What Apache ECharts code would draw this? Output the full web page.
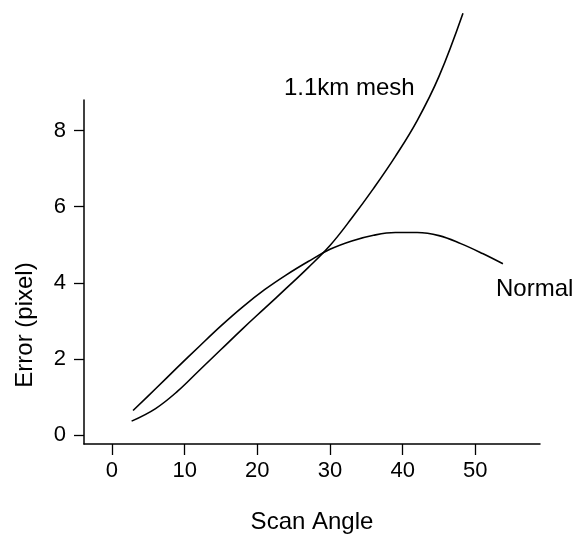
<!DOCTYPE html>
<html>
<head>
<meta charset="utf-8">
<script src="https://cdn.jsdelivr.net/npm/echarts@6/dist/echarts.min.js"></script>
<style>
html,body{margin:0;padding:0;background:#fff;}
#chart{width:575px;height:539px;}
</style>
</head>
<body>
<div id="chart"></div>
<script>
// Data
const normalAngle = [2.9, 6, 9, 12, 15, 18, 21, 24, 27, 30, 33, 36, 39, 42, 45, 48, 51, 53.8];
const normalError = [0.65, 1.22, 1.78, 2.33, 2.87, 3.37, 3.82, 4.21, 4.56, 4.88, 5.10, 5.25, 5.32, 5.32, 5.24, 5.03, 4.77, 4.50];
const meshAngle = [2.7, 6, 9, 12, 15, 18, 21, 24, 27, 30, 33, 36, 39, 42, 45, 48.3];
const meshError = [0.37, 0.70, 1.15, 1.70, 2.25, 2.80, 3.33, 3.86, 4.40, 4.98, 5.70, 6.48, 7.32, 8.26, 9.42, 11.08];
const xTicks = [0, 10, 20, 30, 40, 50];
const yTicks = [0, 2, 4, 6, 8];
const xTitle = 'Scan Angle';
const yTitle = 'Error (pixel)';
const meshName = '1.1km mesh';
const normalName = 'Normal';

const zip = (a, b) => a.map((v, i) => [v, b[i]]);
const FONT = 'Liberation Sans, Arial, Helvetica, sans-serif';

const chart = echarts.init(document.getElementById('chart'));
chart.setOption({
  animation: false,
  backgroundColor: '#fff',
  grid: { left: 84, right: 35, top: 100, bottom: 89, containLabel: false },
  xAxis: {
    type: 'value', min: -3.85, max: 58.9,
    name: xTitle, nameLocation: 'middle', nameGap: 66,
    nameTextStyle: { fontFamily: FONT, fontSize: 24, color: '#000' },
    axisLine: { show: true, onZero: false, lineStyle: { color: '#000', width: 1.5 } },
    axisTick: { show: true, customValues: xTicks, length: 11, lineStyle: { color: '#000', width: 1.3 } },
    axisLabel: { customValues: xTicks, fontFamily: FONT, fontSize: 22, color: '#000', margin: 16 },
    splitLine: { show: false }
  },
  yAxis: {
    type: 'value', min: -0.23, max: 8.8,
    axisLine: { show: true, onZero: false, lineStyle: { color: '#000', width: 1.5 } },
    axisTick: { show: true, customValues: yTicks, length: 10, lineStyle: { color: '#000', width: 1.3 } },
    axisLabel: { customValues: yTicks, fontFamily: FONT, fontSize: 22, color: '#000', margin: 18 },
    splitLine: { show: false }
  },
  series: [
    {
      name: normalName, type: 'line', smooth: 0.4, showSymbol: false, clip: false,
      data: zip(normalAngle, normalError),
      lineStyle: { color: '#000', width: 1.6 }
    },
    {
      name: meshName, type: 'line', smooth: 0.4, showSymbol: false, clip: false,
      data: zip(meshAngle, meshError),
      lineStyle: { color: '#000', width: 1.6 }
    }
  ],
  graphic: [
    { type: 'text', x: 25, y: 325, rotation: Math.PI / 2,
      style: { text: yTitle, font: '24px ' + FONT, fill: '#000', align: 'center', verticalAlign: 'middle' } },
    { type: 'text', left: 284, top: 76, style: { text: meshName, font: '24px ' + FONT, fill: '#000' } },
    { type: 'text', left: 496, top: 277, style: { text: normalName, font: '24px ' + FONT, fill: '#000' } }
  ]
});
</script>
</body>
</html>
